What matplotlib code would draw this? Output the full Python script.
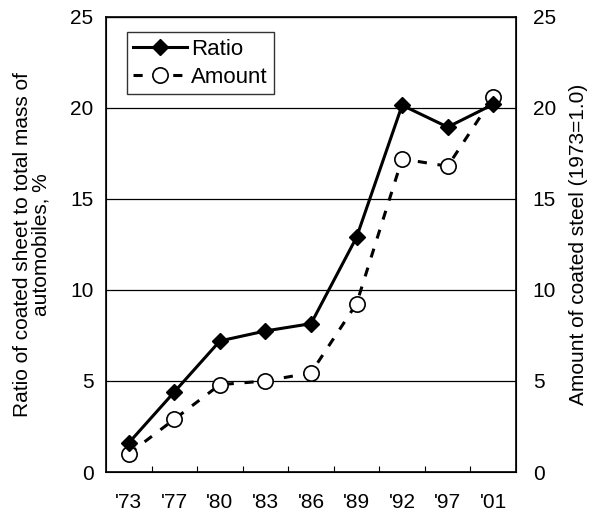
import matplotlib.pyplot as plt

plt.rcParams['font.family'] = ['Liberation Sans', 'DejaVu Sans']

years = ["'73", "'77", "'80", "'83", "'86", "'89", "'92", "'97", "'01"]
ratio = [1.6, 4.4, 7.2, 7.75, 8.15, 12.9, 20.15, 18.95, 20.2]
amount = [1.0, 2.9, 4.8, 5.0, 5.45, 9.25, 17.2, 16.8, 20.6]

fig = plt.figure(figsize=(6.01, 5.14), dpi=100)
ax = fig.add_axes([0.1764, 0.0817, 0.6822, 0.8853])
x = list(range(len(years)))

ax.plot(x, ratio, c='k', lw=2.2, marker='D', ms=8.5, mfc='k', mec='k', label='Ratio', zorder=4)
ax.plot(x, amount, c='k', lw=2.2, ls=(0, (3, 3.5)), marker='o', ms=11, mfc='white', mec='k',
        mew=1.2, label='Amount', zorder=3)

ax.set_xlim(-0.5, len(years) - 0.5)
ax.set_ylim(0, 25)
ax.set_yticks([0, 5, 10, 15, 20, 25])
ax.set_xticks(x)
ax.set_xticklabels(years)
ax.set_xticks([i + 0.5 for i in range(len(years) - 1)], minor=True)
ax.tick_params(axis='x', which='major', length=0, pad=15, labelsize=15)
ax.tick_params(axis='x', which='minor', length=4, direction='in', width=0.8)
ax.tick_params(axis='y', length=0, pad=9, labelsize=15)
ax.grid(axis='y', color='k', lw=0.9)
for s in ax.spines.values():
    s.set_linewidth(1.2)
ax.set_ylabel('Ratio of coated sheet to total mass of\nautomobiles, %', fontsize=15,
              labelpad=14, linespacing=1.0)

ax2 = ax.twinx()
ax2.set_ylim(0, 25)
ax2.set_yticks([0, 5, 10, 15, 20, 25])
ax2.tick_params(axis='y', length=0, pad=12, labelsize=15)
ax2.set_ylabel('Amount of coated steel (1973=1.0)', fontsize=15, labelpad=9)

leg = ax.legend(loc='upper left', bbox_to_anchor=(0.05, 0.966), fontsize=16, frameon=True,
                fancybox=False, edgecolor='k', handlelength=2.4, handletextpad=0.2,
                borderpad=0.3, labelspacing=0.3, borderaxespad=0)
leg.get_frame().set_linewidth(1.0)

plt.savefig('out.png', dpi=100)
